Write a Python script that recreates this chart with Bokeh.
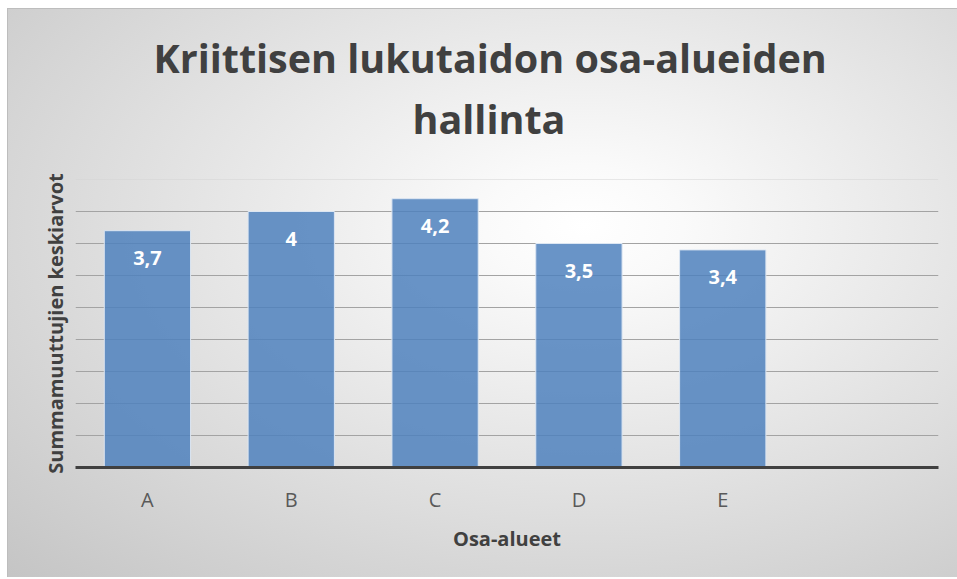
from bokeh.plotting import figure
from bokeh.models import (Range1d, FactorRange, SingleIntervalTicker, FixedTicker,
                          Title, ColumnDataSource, Span)
from bokeh.core.properties import value
from bokeh.embed import file_html
from bokeh.resources import INLINE

# ---- data ----
title_lines = ["Kriittisen lukutaidon osa-alueiden", "hallinta"]
categories = ["A", "B", "C", "D", "E"]
empty_slot = [" "]
values = [3.7, 4.0, 4.2, 3.5, 3.4]
y_max = 4.5
y_step = 0.5
x_label = "Osa-alueet"
y_label = "Summamuuttujien keskiarvot"

labels = [f"{v:g}".replace(".", ",") for v in values]
src = ColumnDataSource(dict(cat=categories, val=values, lab=labels))

FONT = "Open Sans"
DARK = "#404040"

p = figure(width=957, height=579,
           x_range=FactorRange(factors=categories + empty_slot),
           y_range=Range1d(0, y_max),
           output_backend="svg", toolbar_location=None,
           title_location=None,
           min_border_left=75, min_border_right=19,
           min_border_top=179, min_border_bottom=112)

p.background_fill_color = None
p.border_fill_color = None
p.outline_line_color = None
p.styles = {
    "background": (
        "linear-gradient(#ffffff,#ffffff) 0 0 / 7px 100% no-repeat, "
        "linear-gradient(#ffffff,#ffffff) 0 0 / 100% 8px no-repeat, "
        "linear-gradient(#ffffff,#ffffff) 0 577px / 100% 2px no-repeat, "
        "linear-gradient(#bdbdbd,#bdbdbd) 7px 8px / 950px 1px no-repeat, "
        "linear-gradient(#bdbdbd,#bdbdbd) 7px 8px / 1px 569px no-repeat, "
        "radial-gradient(ellipse farthest-corner at 61% 39%, #ffffff 0%, #fafafa 12%, #c4c4c4 100%)"
    ),
}

# titles (first added = closest to the plot); a blank spacer lifts both lines
spacer = Title(text=" ", text_font=FONT, text_font_size="20px", standoff=0)
t2 = Title(text=title_lines[1], align="left", offset=337, text_font=FONT,
           text_font_size="39.5px", text_font_style="bold", text_color=DARK, standoff=10)
t1 = Title(text=title_lines[0], align="left", offset=78, text_font=FONT,
           text_font_size="39.5px", text_font_style="bold", text_color=DARK, standoff=0)
p.add_layout(spacer, "above")
p.add_layout(t2, "above")
p.add_layout(t1, "above")

# grid
p.ygrid.ticker = SingleIntervalTicker(interval=y_step)
p.ygrid.grid_line_color = "#a3a3a3"
p.ygrid.grid_line_width = 1
p.xgrid.grid_line_color = None
p.add_layout(Span(location=y_max, dimension="width", line_color="#d4d4d4", line_width=1,
                  level="underlay"))

# bars
p.vbar(x="cat", top="val", width=0.6, source=src,
       fill_color="#4F81BD", fill_alpha=0.85, line_color="#dce6f2", line_width=1)

# data labels
p.text(x="cat", y="val", text="lab", source=src, y_offset=27,
       text_align="center", text_baseline="middle", text_color="white",
       text_font=value(FONT), text_font_style="bold", text_font_size="20px")

# x axis
xa = p.xaxis[0]
xa.axis_line_color = DARK
xa.axis_line_width = 3
xa.major_tick_line_color = None
xa.minor_tick_line_color = None
xa.major_label_text_font = FONT
xa.major_label_text_font_size = "20px"
xa.major_label_text_color = "#595959"
xa.major_label_standoff = 12
xa.axis_label = x_label
xa.axis_label_text_font = FONT
xa.axis_label_text_font_size = "20px"
xa.axis_label_text_font_style = "bold"
xa.axis_label_text_color = DARK
xa.axis_label_standoff = 9

# y axis (no tick labels, only the title)
ya = p.yaxis[0]
ya.ticker = FixedTicker(ticks=[])
ya.axis_line_color = None
ya.major_tick_line_color = None
ya.minor_tick_line_color = None
ya.major_label_standoff = 0
ya.axis_label = y_label
ya.axis_label_text_font = FONT
ya.axis_label_text_font_size = "20px"
ya.axis_label_text_font_style = "bold"
ya.axis_label_text_color = DARK
ya.axis_label_standoff = 7

open("out.html", "w").write(file_html(p, INLINE))
